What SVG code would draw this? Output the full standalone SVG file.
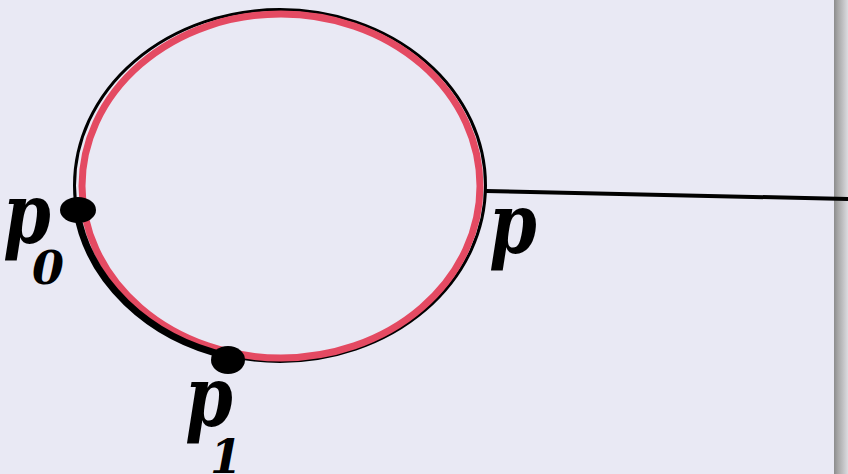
<svg xmlns="http://www.w3.org/2000/svg" width="848" height="474" viewBox="0 0 848 474">
<defs>
<linearGradient id="bar" x1="0" y1="0" x2="1" y2="0">
<stop offset="0" stop-color="#8c8c8c"/>
<stop offset="0.3" stop-color="#a8a8a8"/>
<stop offset="1" stop-color="#dcdce0"/>
</linearGradient>
<style>
.lbl{font-family:"DejaVu Serif",serif;font-weight:bold;font-style:italic;fill:#000;text-anchor:middle}
.big{font-size:85px}
.sub{font-size:46px}
</style>
</defs>
<rect width="848" height="474" fill="#e9e9f4"/>
<rect x="834" y="0" width="14" height="474" fill="url(#bar)"/>
<g id="connectors">
<line x1="486" y1="191" x2="848" y2="199" stroke="#000" stroke-width="4"/>
</g>
<g id="circle">
<ellipse cx="280" cy="185.5" rx="205.5" ry="176" fill="none" stroke="#000" stroke-width="3"/>
<ellipse cx="281" cy="186" rx="199" ry="172" fill="none" stroke="#e44a62" stroke-width="7"/>
<path d="M 76.5 210 A 205.5 176 0 0 0 228 356" fill="none" stroke="#000" stroke-width="7"/>
</g>
<g id="p0">
<ellipse cx="78" cy="210" rx="18" ry="13" fill="#000"/>
<text class="lbl big" transform="translate(27,243) scale(0.8,1)">p</text>
<text class="lbl sub" x="48" y="284">0</text>
</g>
<g id="p1">
<ellipse cx="228" cy="360" rx="17" ry="14" fill="#000"/>
<text class="lbl big" transform="translate(209,426) scale(0.8,1)">p</text>
<text class="lbl sub" x="226" y="473">1</text>
</g>
<g id="p">
<text class="lbl big" transform="translate(513,253) scale(0.8,1)">p</text>
</g>
</svg>
